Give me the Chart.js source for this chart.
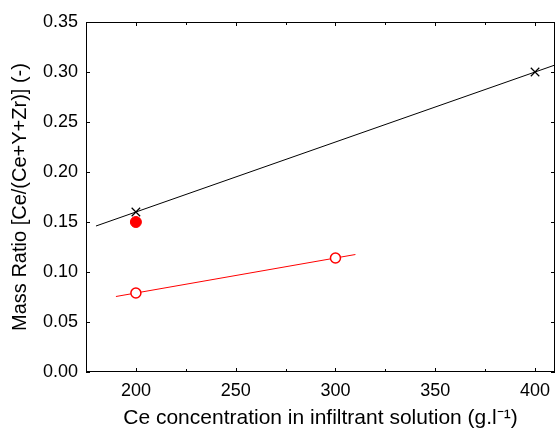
<!DOCTYPE html>
<html>
<head>
<meta charset="utf-8">
<script src="https://cdn.jsdelivr.net/npm/chart.js@4.4.0/dist/chart.umd.min.js"></script>
<style>
  html, body { margin: 0; padding: 0; background: #fff; }
  #wrap { width: 556px; height: 431px; }
</style>
</head>
<body>
<div id="wrap"><canvas id="massChart"></canvas></div>
<script>
// measured points
var blackX = [200, 400];
var blackY = [0.16, 0.30];
var filledX = [200];
var filledY = [0.15];
var openX = [200, 300];
var openY = [0.079, 0.114];

// fitted lines (end points)
var blackFitX = [180, 410];
var blackFitY = [0.146, 0.307];
var redFitX = [190, 310];
var redFitY = [0.0755, 0.1175];

// axes
var xTicks = [200, 250, 300, 350, 400];
var xMinor = [225, 275, 325, 375];
var yTicks = [0, 0.05, 0.10, 0.15, 0.20, 0.25, 0.30, 0.35];

function pts(xs, ys) {
    return xs.map(function (x, i) { return { x: x, y: ys[i] }; });
}

var FONT = '"Liberation Sans", Arial, sans-serif';

// frame + inward ticks
var framePlugin = {
    id: 'frame',
    afterDraw: function (chart) {
        var c = chart.ctx, a = chart.chartArea;
        var sx = chart.scales.x, sy = chart.scales.y;
        c.save();
        c.strokeStyle = '#000';
        c.lineWidth = 1;
        c.strokeRect(a.left + 0.5, a.top + 0.5, a.right - a.left - 1, a.bottom - a.top - 1);
        c.beginPath();
        xTicks.forEach(function (v) {
            var px = Math.round(sx.getPixelForValue(v)) + 0.5;
            c.moveTo(px, a.bottom); c.lineTo(px, a.bottom - 4);
            c.moveTo(px, a.top); c.lineTo(px, a.top + 4);
        });
        xMinor.forEach(function (v) {
            var px = Math.round(sx.getPixelForValue(v)) + 0.5;
            c.moveTo(px, a.bottom); c.lineTo(px, a.bottom - 3);
            c.moveTo(px, a.top); c.lineTo(px, a.top + 3);
        });
        yTicks.forEach(function (v) {
            var py = Math.round(sy.getPixelForValue(v)) + 0.5;
            c.moveTo(a.left, py); c.lineTo(a.left + 4, py);
            c.moveTo(a.right, py); c.lineTo(a.right - 4, py);
        });
        c.stroke();
        c.restore();
    }
};

var ctx = document.getElementById('massChart').getContext('2d');
var chart = new Chart(ctx, {
    type: 'scatter',
    data: {
        datasets: [{
            data: pts(blackFitX, blackFitY),
            showLine: true,
            borderColor: '#000',
            borderWidth: 1,
            pointRadius: 0,
            order: 5
        }, {
            data: pts(redFitX, redFitY),
            showLine: true,
            borderColor: '#ff0000',
            borderWidth: 1,
            pointRadius: 0,
            order: 5
        }, {
            data: pts(blackX, blackY),
            pointStyle: 'crossRot',
            pointRadius: 6,
            borderColor: '#000',
            borderWidth: 1.2,
            order: 1
        }, {
            data: pts(filledX, filledY),
            pointStyle: 'circle',
            pointRadius: 5.5,
            backgroundColor: '#ff0000',
            borderColor: '#ff0000',
            borderWidth: 1,
            order: 1
        }, {
            data: pts(openX, openY),
            pointStyle: 'circle',
            pointRadius: 5,
            backgroundColor: '#fff',
            borderColor: '#ff0000',
            borderWidth: 1.5,
            order: 1
        }]
    },
    options: {
        responsive: true,
        maintainAspectRatio: false,
        animation: false,
        layout: { autoPadding: false, padding: { top: 22, right: 1, left: 0, bottom: 0 } },
        plugins: {
            legend: { display: false },
            tooltip: { enabled: false }
        },
        scales: {
            x: {
                type: 'linear',
                min: 175,
                max: 410,
                afterBuildTicks: function (s) {
                    s.ticks = xTicks.map(function (v) { return { value: v }; });
                },
                afterFit: function (s) {
                    s.height = 59;
                    s.paddingLeft = 0;
                    s.paddingRight = 0;
                },
                grid: { display: false, drawTicks: false },
                border: { display: false },
                ticks: {
                    color: '#000',
                    padding: 8,
                    font: { family: FONT, size: 18 }
                },
                title: {
                    display: true,
                    text: 'Ce concentration in infiltrant solution (g.l\u207B\u00B9)',
                    color: '#000',
                    font: { family: FONT, size: 21 },
                    padding: { top: 2, bottom: 0 }
                }
            },
            y: {
                type: 'linear',
                min: 0,
                max: 0.35,
                afterBuildTicks: function (s) {
                    s.ticks = yTicks.map(function (v) { return { value: v }; });
                },
                afterFit: function (s) {
                    s.width = 86;
                    s.paddingTop = 0;
                    s.paddingBottom = 0;
                },
                grid: { display: false, drawTicks: false },
                border: { display: false },
                ticks: {
                    color: '#000',
                    padding: 8,
                    font: { family: FONT, size: 18 },
                    callback: function (v) { return Number(v).toFixed(2); }
                },
                title: {
                    display: true,
                    text: 'Mass Ratio [Ce/(Ce+Y+Zr)] (-)',
                    color: '#000',
                    font: { family: FONT, size: 20 },
                    padding: { top: 8, bottom: 0 }
                }
            }
        }
    },
    plugins: [framePlugin]
});
</script>
</body>
</html>
